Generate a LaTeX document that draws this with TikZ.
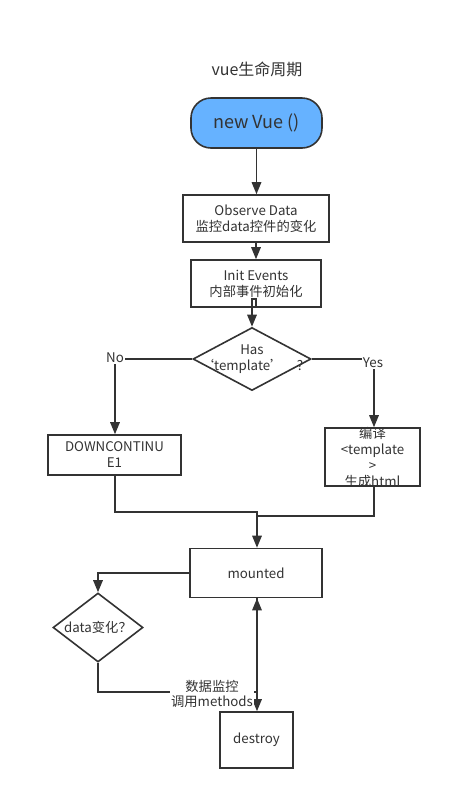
\documentclass[tikz,border=0pt]{standalone}
\usepackage{fontspec}
\setmainfont{Noto Sans CJK SC}
\usetikzlibrary{arrows.meta,shapes.geometric}
\definecolor{ink}{HTML}{333333}
\definecolor{vueblue}{RGB}{102,178,255}
\tikzset{
  box/.style={draw=ink, line width=1.6pt, fill=white, inner sep=0pt},
  dia/.style={draw=ink, line width=1.6pt, diamond, inner sep=0pt, fill=white},
  txt/.style={text=ink, font=\fontsize{13.3pt}{16pt}\selectfont, align=center, inner sep=0pt},
  lbl/.style={text=ink, font=\fontsize{13.3pt}{15pt}\selectfont, align=center, fill=white, inner sep=1pt},
  conn/.style={draw=ink, line width=1.6pt},
  arr/.style={conn, -{Triangle[length=12pt,width=9.5pt]}},
}
\begin{document}
\begin{tikzpicture}[x=1pt,y=-1pt]
\useasboundingbox (0,0) rectangle (453,801);
\node[txt, font=\fontsize{16pt}{19pt}\selectfont] (title) at (257,69) {vue生命周期};
\node[box, fill=vueblue, rounded corners=20pt, minimum width=131pt, minimum height=50pt] (nv) at (256.5,123) {};
\node[txt, font=\fontsize{18pt}{21pt}\selectfont] at (nv) {new Vue ()};
\node[box, minimum width=146pt, minimum height=47pt] (obs) at (256,218.5) {};
\node[txt] at (obs) {Observe Data\\监控data控件的变化};
\node[box, minimum width=130pt, minimum height=47pt] (init) at (256,283.5) {};
\node[txt] at (init) {Init Events\\内部事件初始化};
\node[dia, minimum width=118pt, minimum height=63pt] (d1) at (252,359) {};
\node[txt] at (d1) {Has\\‘template’　?};
\node[box, minimum width=133pt, minimum height=40pt] (dc) at (114.5,455) {};
\node[txt] at (dc) {DOWNCONTINU\\E1};
\node[box, minimum width=95pt, minimum height=58pt] (tb) at (372.5,457) {};
\node[txt] at (372.5,457.5) {编译\\<template\\>\\生成html};
\node[box, minimum width=132pt, minimum height=49pt] (mt) at (256,573) {};
\node[txt] at (mt) {mounted};
\node[dia, minimum width=90pt, minimum height=69pt] (d2) at (98,627.5) {};
\node[txt] at (d2) {data变化？};
\node[box, minimum width=73pt, minimum height=56pt] (ds) at (256.5,740) {};
\node[txt] at (ds) {destroy};

\draw[arr] (nv.south) -- (nv.south |- obs.north);
\draw[arr] (obs.south) -- (init.north);
\draw[arr] (init.south) -- ++(0,-9) -| (d1.north);
\coordinate (nocorner) at (115,359);
\coordinate (yescorner) at (374,359);
\draw[arr] (d1.west) -- (nocorner) -- (nocorner |- dc.north);
\draw[arr] (d1.east) -- (yescorner) -- (yescorner |- tb.north);
\node[lbl] (no) at (115,358) {No};
\node[lbl] (yes) at (373,363) {Yes};
\coordinate (j1) at (115,512);
\coordinate (j2) at (257,512);
\coordinate (j3) at (374,516);
\coordinate (j4) at (257,516);
\draw[arr] (dc.south -| j1) -- (j1) -- (j2) -- (j2 |- mt.north);
\draw[conn] (tb.south -| j3) -- (j3) -- (j4);
\draw[arr] (mt.west) -| (d2.north);
\coordinate (k1) at (98,692);
\coordinate (k2) at (257,692);
\draw[arr] (d2.south) -- (k1) -- (k2) -- (k2 |- mt.south);
\draw[arr] (k2 |- mt.south) -- (k2 |- ds.north);
\node[lbl] (ml) at (212,694) {数据监控\\调用methods};
\end{tikzpicture}
\end{document}
